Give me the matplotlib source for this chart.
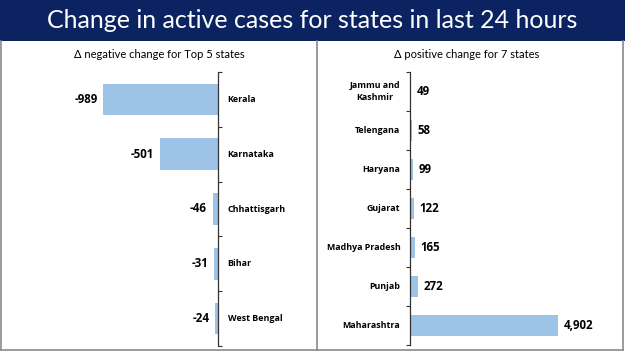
import matplotlib
matplotlib.use("Agg")
import matplotlib.pyplot as plt
from matplotlib.patches import Rectangle
from matplotlib.lines import Line2D

neg_states = ["Kerala", "Karnataka", "Chhattisgarh", "Bihar", "West Bengal"]
neg_values = [-989, -501, -46, -31, -24]
pos_states = ["Jammu and\nKashmir", "Telengana", "Haryana", "Gujarat",
              "Madhya Pradesh", "Punjab", "Maharashtra"]
pos_values = [49, 58, 99, 122, 165, 272, 4902]

title = "Change in active cases for states in last 24 hours"
left_title = "\u0394 negative change for Top 5 states"
right_title = "\u0394 positive change for 7 states"

W, H = 625, 351
plt.rcParams['font.family'] = ['Open Sans', 'DejaVu Sans']
fig = plt.figure(figsize=(W / 100, H / 100), dpi=100)

navy = "#0b2461"
bar_c = "#9dc3e6"
border = "#8a8a8a"

def px(x0, y0, x1, y1):
    return [x0 / W, 1 - y1 / H, (x1 - x0) / W, (y1 - y0) / H]

# title bar
fig.patches.append(Rectangle((0, 1 - 41 / H), 1, 41 / H, transform=fig.transFigure,
                             facecolor=navy, edgecolor="none"))
fig.text(0.5, 1 - 20 / H, title, color="white", fontsize=18, ha="center", va="center",
         family=["Lato", "DejaVu Sans"])

# panel borders
for xs, ys in [([1.5 / W, 1.5 / W], [1 - 41 / H, 1 - 350 / H]),
               ([316.5 / W, 316.5 / W], [1 - 41 / H, 1 - 350 / H]),
               ([622.5 / W, 622.5 / W], [1 - 41 / H, 1 - 350 / H]),
               ([1.5 / W, 622.5 / W], [1 - 349.5 / H, 1 - 349.5 / H])]:
    fig.lines.append(Line2D(xs, ys, transform=fig.transFigure, color=border, lw=1.2))

fig.text(159 / W, 1 - 55 / H, left_title, fontsize=8, ha="center", va="center",
         family=["Lato", "DejaVu Sans"])
fig.text(467 / W, 1 - 55 / H, right_title, fontsize=8, ha="center", va="center",
         family=["Lato", "DejaVu Sans"])

# left chart
axL = fig.add_axes(px(40, 72, 218, 346))
n = len(neg_states)
ys = list(range(n))
axL.barh(ys, neg_values, height=0.58, color=bar_c)
axL.set_ylim(n - 0.5, -0.5)
axL.set_xlim(-989 * 178 / 115, 0)
for s in ["top", "left", "bottom"]:
    axL.spines[s].set_visible(False)
axL.spines["right"].set_color("#333333")
axL.spines["right"].set_linewidth(0.9)
axL.set_xticks([])
axL.yaxis.tick_right()
axL.set_yticks([i - 0.5 for i in range(n + 1)])
axL.set_yticklabels([])
axL.tick_params(axis="y", length=3, width=0.8, color="#333333", direction="out")
for y, v, s in zip(ys, neg_values, neg_states):
    axL.annotate(f"{v:,}", (v, y), xytext=(-4, 0), textcoords="offset points",
                 ha="right", va="center", fontsize=8.3, fontweight="bold")
    axL.annotate(s, (0, y), xytext=(7, 0), textcoords="offset points",
                 ha="left", va="center", fontsize=6.4, fontweight="bold",
                 annotation_clip=False)

# right chart
axR = fig.add_axes(px(410, 72, 610, 345))
m = len(pos_states)
ys2 = list(range(m))
axR.barh(ys2, pos_values, height=0.56, color=bar_c)
axR.set_ylim(m - 0.5, -0.5)
axR.set_xlim(0, 4902 * 200 / 148)
for s in ["top", "right", "bottom"]:
    axR.spines[s].set_visible(False)
axR.spines["left"].set_color("#333333")
axR.spines["left"].set_linewidth(0.9)
axR.set_xticks([])
axR.set_yticks([i - 0.5 for i in range(m + 1)])
axR.set_yticklabels([])
axR.tick_params(axis="y", length=3, width=0.8, color="#333333", direction="out")
for y, v, s in zip(ys2, pos_values, pos_states):
    axR.annotate(f"{v:,}", (v, y), xytext=(4, 0), textcoords="offset points",
                 ha="left", va="center", fontsize=8.3, fontweight="bold")
    axR.annotate(s, (0, y), xytext=(-7, 0), textcoords="offset points",
                 ha="right", va="center", fontsize=6.4, fontweight="bold",
                 multialignment="center", linespacing=1.5, annotation_clip=False)

fig.savefig("out.png", dpi=100)
